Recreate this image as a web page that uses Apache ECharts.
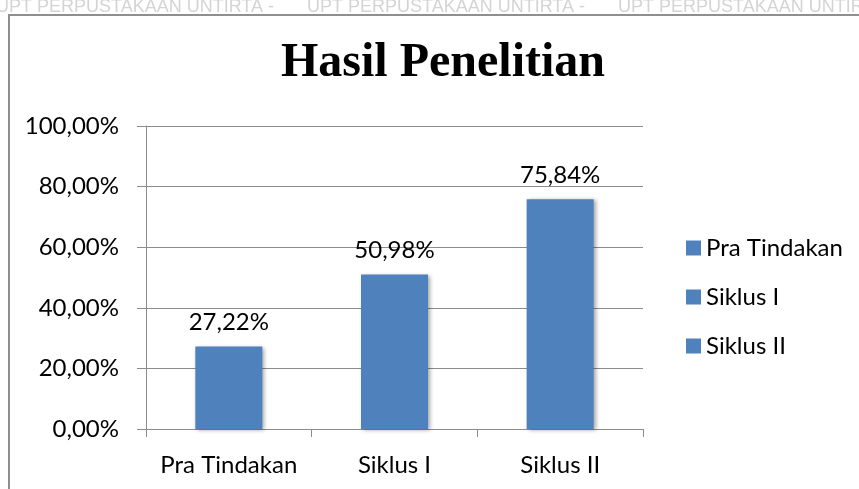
<!DOCTYPE html>
<html>
<head>
<meta charset="utf-8">
<script src="https://cdn.jsdelivr.net/npm/echarts@6/dist/echarts.min.js"></script>
<style>
  html, body { margin: 0; padding: 0; background: #fff; }
  #container { width: 859px; height: 489px; }
</style>
</head>
<body>
<div id="container"></div>
<script>
var categories = ['Pra Tindakan', 'Siklus I', 'Siklus II'];
var values = [27.22, 50.98, 75.84];
var watermark = 'UPT PERPUSTAKAAN UNTIRTA';

(function(){
    var dom = document.getElementById('container');
    var myChart = echarts.init(dom, null, { renderer: 'canvas' });

    var barColor = '#4F81BD';
    var gridColor = '#8c8c8c';
    var font = 'Lato';

    function pct(v) {
        return v.toFixed(2).replace('.', ',') + '%';
    }

    // one series per category so the legend lists all three
    var series = categories.map(function(name, i){
        return {
            name: name,
            type: 'bar',
            stack: 'total',
            barWidth: 67,
            data: categories.map(function(c, j){ return j === i ? values[i] : '-'; }),
            itemStyle: {
                color: barColor,
                shadowColor: 'rgba(0,0,0,0.35)',
                shadowBlur: 4,
                shadowOffsetX: 2,
                shadowOffsetY: 1
            },
            label: {
                show: true,
                position: 'top',
                distance: 12,
                fontFamily: font,
                fontSize: 24,
                color: '#000',
                formatter: function(p){ return pct(p.value); }
            }
        };
    });

    var graphic = [
        {
            type: 'rect',
            shape: { x: 9, y: 15, width: 900, height: 500 },
            style: { fill: 'none', stroke: '#8f8f8f', lineWidth: 2 }
        },
        {
            type: 'text',
            x: 443, y: 64,
            style: {
                text: 'Hasil Penelitian',
                fontFamily: 'Liberation Serif',
                fontWeight: 'bold',
                fontSize: 48,
                fill: '#000',
                textAlign: 'center',
                textVerticalAlign: 'middle'
            }
        }
    ];
    [-4, 307, 618].forEach(function(x){
        graphic.push({
            type: 'text',
            x: x, y: 7,
            style: {
                text: watermark + ' -',
                fontFamily: 'Liberation Sans',
                fontSize: 18,
                fill: '#d4d4d4',
                textVerticalAlign: 'middle'
            }
        });
    });

    var option = {
        animation: false,
        backgroundColor: '#fff',
        graphic: graphic,
        grid: { left: 146, right: 216, top: 126, bottom: 60 },
        legend: {
            orient: 'vertical',
            left: 686,
            top: 235,
            padding: 0,
            itemWidth: 15,
            itemHeight: 15,
            itemGap: 23,
            icon: 'rect',
            textStyle: { fontFamily: font, fontSize: 24, color: '#000', lineHeight: 26 },
            data: categories
        },
        xAxis: {
            type: 'category',
            data: categories,
            axisLine: { lineStyle: { color: gridColor, width: 1 } },
            axisTick: { show: true, length: 8, lineStyle: { color: gridColor } },
            axisLabel: { interval: 0, hideOverlap: false, margin: 24, fontFamily: font, fontSize: 24, color: '#000' }
        },
        yAxis: {
            type: 'value',
            min: 0,
            max: 100,
            interval: 20,
            axisLine: { show: true, lineStyle: { color: gridColor, width: 1 } },
            axisTick: { show: true, length: 9, lineStyle: { color: gridColor } },
            splitLine: { lineStyle: { color: gridColor, width: 1 } },
            axisLabel: {
                margin: 27,
                fontFamily: font,
                fontSize: 24,
                color: '#000',
                formatter: function(v){ return pct(v); }
            }
        },
        series: series
    };

    myChart.setOption(option, true);
    window.onresize = myChart.resize;
}());
</script>
</body>
</html>
